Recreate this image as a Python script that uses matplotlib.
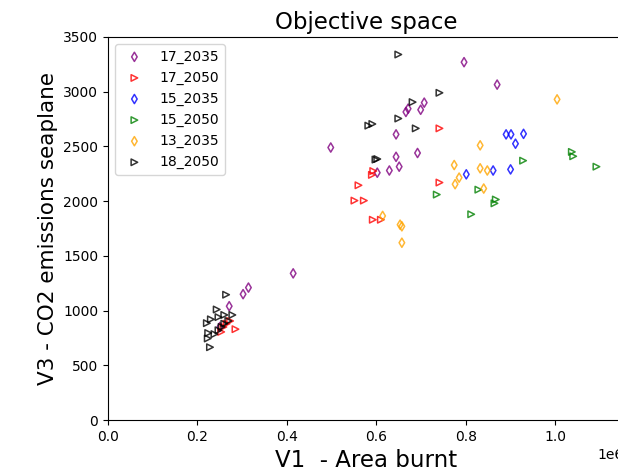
import matplotlib
matplotlib.use("Agg")
import matplotlib.pyplot as plt

# 17_2035 (purple diamonds)
x_17_2035 = [0.498, 0.414, 0.271, 0.302, 0.314, 0.250, 0.796, 0.870, 0.644, 0.666, 0.671,
             0.699, 0.707, 0.692, 0.644, 0.651, 0.629, 0.602]
y_17_2035 = [2490, 1340, 1040, 1150, 1210, 850, 3270, 3065, 2610, 2815, 2845,
             2835, 2900, 2440, 2405, 2315, 2280, 2260]
# 17_2050 (red triangles)
x_17_2050 = [0.593, 0.590, 0.560, 0.551, 0.572, 0.592, 0.610, 0.741, 0.741,
             0.285, 0.273, 0.253, 0.258, 0.265]
y_17_2050 = [2275, 2240, 2145, 2005, 2005, 1830, 1830, 2170, 2665,
             830, 905, 805, 850, 880]
# 15_2035 (blue diamonds)
x_15_2035 = [0.890, 0.901, 0.929, 0.911, 0.900, 0.861, 0.801]
y_15_2035 = [2610, 2610, 2615, 2525, 2290, 2280, 2245]
# 15_2050 (green triangles)
x_15_2050 = [0.928, 1.037, 1.040, 1.092, 0.828, 0.867, 0.864, 0.812, 0.735]
y_15_2050 = [2370, 2450, 2410, 2315, 2105, 2015, 1980, 1880, 2060]
# 13_2035 (orange diamonds)
x_13_2035 = [1.004, 0.832, 0.774, 0.832, 0.848, 0.785, 0.776, 0.840, 0.614, 0.653, 0.657, 0.657]
y_13_2035 = [2930, 2510, 2330, 2300, 2280, 2215, 2155, 2115, 1865, 1785, 1770, 1620]
# 18_2050 (black triangles)
x_18_2050 = [0.649, 0.741, 0.681, 0.649, 0.688, 0.582, 0.591, 0.598, 0.602,
             0.264, 0.243, 0.221, 0.230, 0.247, 0.260, 0.278, 0.269, 0.224, 0.223,
             0.228, 0.260, 0.247, 0.238, 0.254]
y_18_2050 = [3340, 2990, 2905, 2755, 2665, 2690, 2705, 2380, 2385,
             1145, 1010, 885, 920, 940, 960, 960, 905, 795, 745,
             665, 880, 820, 785, 850]

series = [
    ("17_2035", x_17_2035, y_17_2035, "purple", "d"),
    ("17_2050", x_17_2050, y_17_2050, "red", ">"),
    ("15_2035", x_15_2035, y_15_2035, "blue", "d"),
    ("15_2050", x_15_2050, y_15_2050, "green", ">"),
    ("13_2035", x_13_2035, y_13_2035, "orange", "d"),
    ("18_2050", x_18_2050, y_18_2050, "black", ">"),
]

fig = plt.figure(figsize=(6.18, 4.75), dpi=100)
ax = fig.add_axes([108/618, 55/475, (624-108)/618, (438-55)/475])
for name, xs, ys, c, m in series:
    ax.scatter([v * 1e6 for v in xs], ys, marker=m, facecolors="none",
               edgecolors=c, s=22, linewidths=1.1, alpha=0.8, label=name)

ax.set_xlim(0, 1.1536e6)
ax.set_ylim(0, 3500)
ax.set_xticks([0, 0.2e6, 0.4e6, 0.6e6, 0.8e6, 1.0e6])
ax.set_title("Objective space", fontsize=16.5)
ax.set_xlabel("V1  - Area burnt", fontsize=16.5)
ax.set_ylabel("V3 - CO2 emissions seaplane", fontsize=15.5)
ax.legend(loc="upper left", fontsize=10)
fig.savefig("out.png", dpi=100)
